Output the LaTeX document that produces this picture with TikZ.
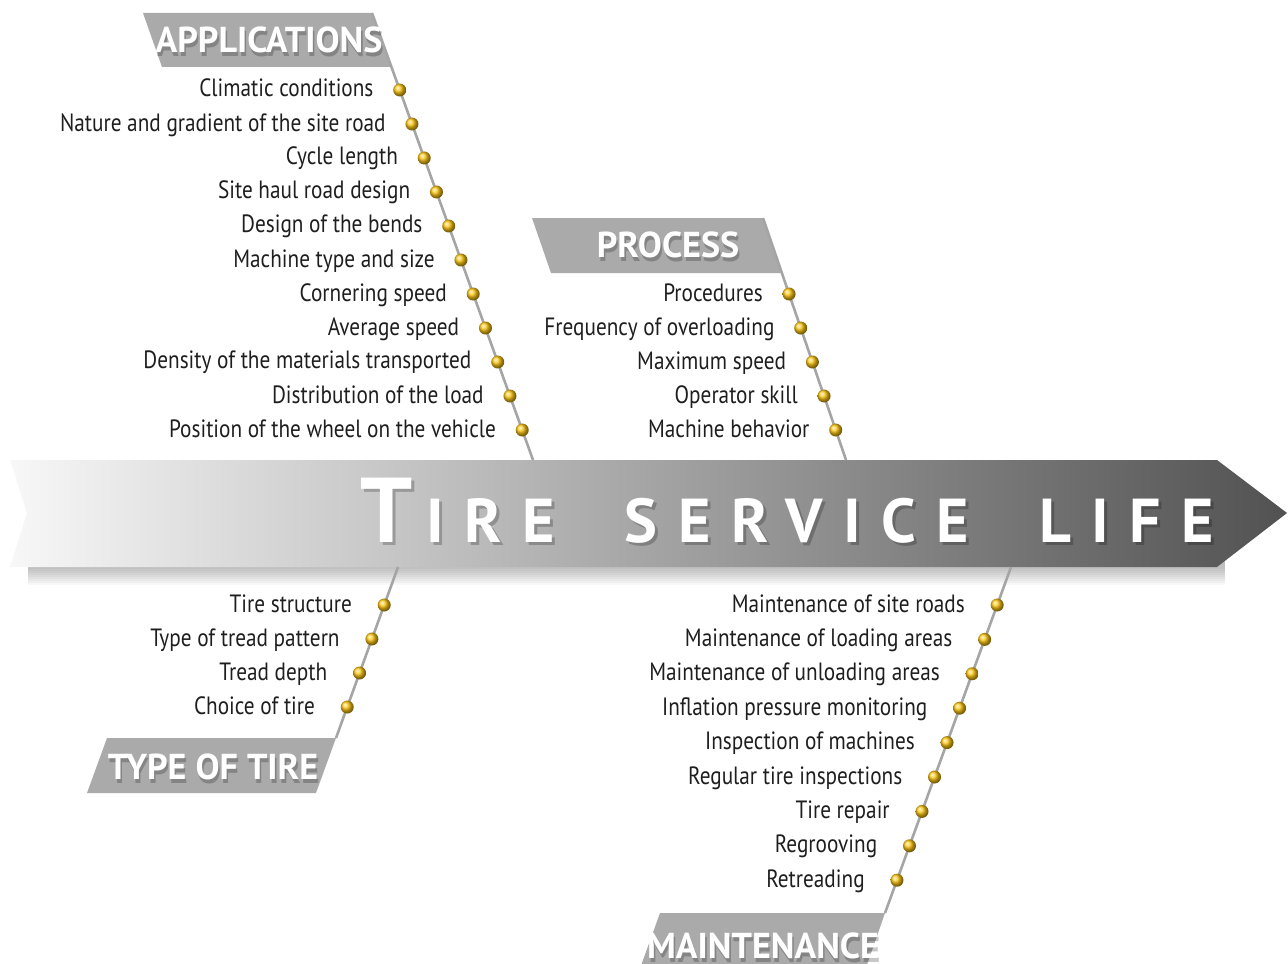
\documentclass[tikz,border=0pt]{standalone}
\usepackage{fontspec}
\setmainfont{PT Sans}
\newfontfamily\itemfont[FakeStretch=0.85]{PT Sans}
\usetikzlibrary{positioning,calc}
\definecolor{bonegray}{RGB}{165,165,165}
\definecolor{tabgray}{RGB}{170,170,170}
\definecolor{beadgold}{RGB}{255,200,20}
\definecolor{itemtext}{RGB}{30,30,30}

\begin{document}
\begin{tikzpicture}[x=0.5pt,y=-0.5pt,
    bead/.style={circle,inner sep=0pt,minimum size=6.5pt,shade,ball color=beadgold},
    item/.style={inner sep=0pt,anchor=base east,yshift=-3.5pt,text=itemtext,
        font=\itemfont\fontsize{12.5}{14}\selectfont},
    bone/.style={bonegray,line width=1.3pt},
    tab/.style={fill=tabgray},
    tabtext/.style={inner sep=0pt,text=white,font=\bfseries\fontsize{18}{20}\selectfont},
    tabshadow/.style={tabtext,text=black,opacity=.22,xshift=.8pt,yshift=-2pt},
    title/.style={inner sep=0pt,anchor=base west,text=white,
        font=\bfseries\fontsize{31}{31}\selectfont\addfontfeature{LetterSpace=33}}]
    \clip (0,0) rectangle (1288,963);

    \foreach \d in {2,4,...,18}
        \fill[black,opacity=.03] (28,530) rectangle (1225,{567+\d});
    \shade[left color=black!3,middle color=black!24,right color=black!68]
        (10,460) -- (1217,460) -- (1287,513) -- (1217,567) -- (10,567) -- (27,513) -- cycle;
    \node[title,text=black,opacity=.22] (titleSh) at (363,545)
        {{\fontsize{46}{46}\selectfont T}\hspace{7pt}IRE\hspace{35pt}SERVICE\hspace{35pt}LIFE};
    \node[title] (title) at (360,542)
        {{\fontsize{46}{46}\selectfont T}\hspace{7pt}IRE\hspace{35pt}SERVICE\hspace{35pt}LIFE};

    \coordinate (appHead) at (372,13);
    \coordinate (appRoot) at (533,460);
    \coordinate (procHead) at (763,218);
    \coordinate (procRoot) at (846,460);
    \coordinate (tireRoot) at (398,567);
    \coordinate (tireHead) at (336,738);
    \coordinate (mntRoot) at (1011,567);
    \coordinate (mntHead) at (885,913);

    \fill[tab] (143,13) -- (appHead) -- (391,67) -- (162,67) -- cycle;
    \fill[tab] (532,218) -- (procHead) -- (782,273) -- (551,273) -- cycle;
    \fill[tab] (107,738) -- (tireHead) -- (316,793) -- (87,793) -- cycle;
    \fill[tab] (660,913) -- (mntHead) -- (860,985) -- (634,985) -- cycle;

    \draw[bone] (appHead) -- (appRoot);
    \draw[bone] (procHead) -- (procRoot);
    \draw[bone] (tireRoot) -- (tireHead);
    \draw[bone] (mntRoot) -- (mntHead);

    \node[tabshadow] (appSh) at (269,40) {APPLICATIONS};
    \node[tabtext] (app) at (269,40) {APPLICATIONS};
    \node[tabshadow] (procSh) at (668,245) {PROCESS};
    \node[tabtext] (proc) at (668,245) {PROCESS};
    \node[tabshadow] (tireSh) at (213,767) {TYPE OF TIRE};
    \node[tabtext] (tire) at (213,767) {TYPE OF TIRE};
    \node[tabshadow] (mntSh) at (763,946) {MAINTENANCE};
    \node[tabtext] (mnt) at (763,946) {MAINTENANCE};

    \foreach \lbl [count=\i] in {Climatic conditions,Nature and gradient of the site road,
            Cycle length,Site haul road design,Design of the bends,Machine type and size,
            Cornering speed,Average speed,Density of the materials transported,
            Distribution of the load,Position of the wheel on the vehicle} {
        \node[bead] (app\i) at ($(appHead)!{(43+34*\i)/447}!(appRoot)$) {};
        \node[left=9.5pt of app\i,item] (appL\i) {\lbl};
    }
    \foreach \lbl [count=\i] in {Procedures,Frequency of overloading,Maximum speed,
            Operator skill,Machine behavior} {
        \node[bead] (proc\i) at ($(procHead)!{(42+34*\i)/242}!(procRoot)$) {};
        \node[left=9.5pt of proc\i,item] (procL\i) {\lbl};
    }
    \foreach \lbl [count=\i] in {Tire structure,Type of tread pattern,Tread depth,
            Choice of tire} {
        \node[bead] (tire\i) at ($(tireRoot)!{(4+34*\i)/171}!(tireHead)$) {};
        \node[left=12.5pt of tire\i,item] (tireL\i) {\lbl};
    }
    \foreach \lbl [count=\i] in {Maintenance of site roads,Maintenance of loading areas,
            Maintenance of unloading areas,Inflation pressure monitoring,
            Inspection of machines,Regular tire inspections,Tire repair,Regrooving,
            Retreading} {
        \node[bead] (mnt\i) at ($(mntRoot)!{(3.6+34.4*\i)/346}!(mntHead)$) {};
        \node[left=12.5pt of mnt\i,item] (mntL\i) {\lbl};
    }
\end{tikzpicture}
\end{document}
